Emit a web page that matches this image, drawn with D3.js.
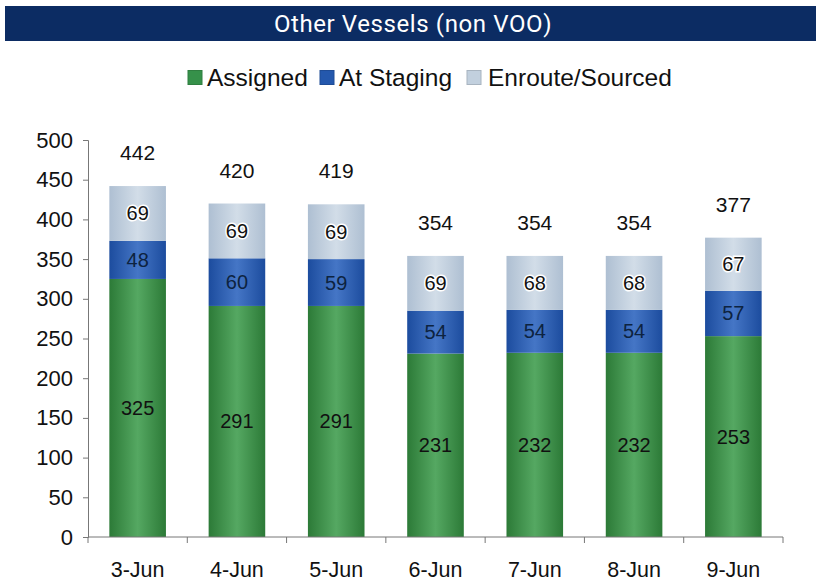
<!DOCTYPE html>
<html><head><meta charset="utf-8">
<script src="https://cdn.jsdelivr.net/npm/d3@7"></script>
<style>body{margin:0;background:#fff}svg{display:block}</style>
</head><body>
<svg id="c" width="816" height="581"></svg>
<script>
const categories = ["3-Jun","4-Jun","5-Jun","6-Jun","7-Jun","8-Jun","9-Jun"];
const assigned = [325,291,291,231,232,232,253];
const atStaging = [48,60,59,54,54,54,57];
const enroute = [69,69,69,69,68,68,67];
const totals = [442,420,419,354,354,354,377];
const seriesNames = ["Assigned","At Staging","Enroute/Sourced"];
const yTicks = [0,50,100,150,200,250,300,350,400,450,500];

const svg = d3.select("#c");
const W=816,H=581;
const m={l:88,r:33,t:140,b:44};
const font="'Liberation Sans', Arial, sans-serif";

// gradients
const defs=svg.append("defs");
const gradSpec=[["g0","#2c7a37","#55a862"],["g1","#1c4c9e","#4576c6"],["g2","#aebfd2","#d2dde8"]];
gradSpec.forEach(([id,e,c])=>{
  const g=defs.append("linearGradient").attr("id",id).attr("x1","0").attr("x2","1").attr("y1","0").attr("y2","0");
  g.append("stop").attr("offset","0%").attr("stop-color",e);
  g.append("stop").attr("offset","50%").attr("stop-color",c);
  g.append("stop").attr("offset","100%").attr("stop-color",e);
});
const legendColors=["#36914a","#2458ad","#c2d0de"];

// title bar
svg.append("rect").attr("x",5).attr("y",6).attr("width",811).attr("height",35).attr("fill","#0c2c63");
svg.append("text").attr("x",413).attr("y",32).attr("text-anchor","middle")
  .attr("fill","#fff").attr("font-family","Roboto, 'Open Sans', sans-serif").attr("font-size",24).attr("font-weight",400)
  .attr("letter-spacing",0.6)
  .text("Other Vessels (non VOO)");

// legend
const legItems=[{x:188,tx:207},{x:320,tx:339},{x:467,tx:488}];
seriesNames.forEach((n,i)=>{
  svg.append("rect").attr("x",legItems[i].x).attr("y",70.5).attr("width",14).attr("height",14)
    .attr("fill",legendColors[i]).attr("stroke",d3.color(legendColors[i]).darker(0.4)).attr("stroke-width",1);
  svg.append("text").attr("x",legItems[i].tx).attr("y",86).attr("font-family",font).attr("font-size",24.5)
    .attr("fill","#111").text(n);
});

const x=d3.scaleBand().domain(categories).range([m.l,W-m.r]).paddingInner(0.43).paddingOuter(0.215);
const y=d3.scaleLinear().domain([0,500]).range([H-m.b,m.t]);

const data=categories.map((c,i)=>({cat:c,Assigned:assigned[i],"At Staging":atStaging[i],"Enroute/Sourced":enroute[i],total:totals[i]}));
const stack=d3.stack().keys(seriesNames)(data);

const g=svg.append("g");
stack.forEach((s,si)=>{
  g.selectAll(null).data(s).enter().append("rect")
    .attr("x",d=>x(d.data.cat)).attr("width",x.bandwidth())
    .attr("y",d=>y(d[1])).attr("height",d=>y(d[0])-y(d[1]))
    .attr("fill",`url(#g${si})`);
});
// segment labels
stack.forEach((s,si)=>{
  g.selectAll(null).data(s).enter().append("text")
    .attr("x",d=>x(d.data.cat)+x.bandwidth()/2)
    .attr("y",d=>(y(d[0])+y(d[1]))/2+7)
    .attr("text-anchor","middle").attr("font-family",font).attr("font-size",20)
    .attr("fill",si==1?"#0d2340":"#111")
    .attr("stroke",si==2?"#fff":"none").attr("stroke-width",si==2?3:0).attr("paint-order","stroke")
    .text(d=>d[1]-d[0]);
});
// totals
g.selectAll(null).data(data).enter().append("text")
  .attr("x",d=>x(d.cat)+x.bandwidth()/2).attr("y",d=>y(d.total)-26)
  .attr("text-anchor","middle").attr("font-family",font).attr("font-size",21).attr("fill","#111")
  .text(d=>d.total);

// y axis
const ya=svg.append("g").attr("transform",`translate(${m.l},0)`)
  .call(d3.axisLeft(y).tickValues(yTicks).tickSize(5).tickPadding(10));
ya.selectAll("text").attr("font-family",font).attr("font-size",22).attr("fill","#111");
ya.selectAll("line,path").attr("stroke","#777");

// x axis with ticks at band boundaries
const xa=svg.append("g").attr("transform",`translate(0,${y(0)})`);
xa.append("line").attr("x1",m.l).attr("x2",W-m.r).attr("stroke","#777");
const step=x.step();
const bounds=categories.map((c,i)=>m.l+i*step);
bounds.push(W-m.r);
xa.selectAll(null).data(bounds).enter().append("line")
  .attr("x1",d=>d).attr("x2",d=>d).attr("y1",0).attr("y2",6).attr("stroke","#777");
xa.selectAll(null).data(categories).enter().append("text")
  .attr("x",d=>x(d)+x.bandwidth()/2).attr("y",40).attr("text-anchor","middle")
  .attr("font-family",font).attr("font-size",21.5).attr("fill","#111").text(d=>d);
</script>
</body></html>
